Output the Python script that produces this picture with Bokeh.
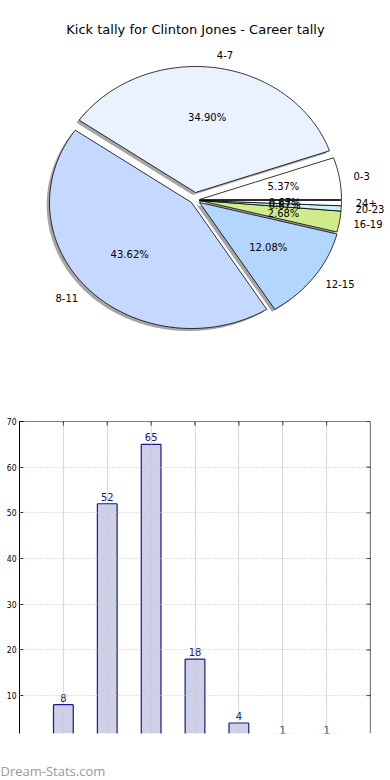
import numpy as np
from bokeh.plotting import figure
from bokeh.models import Range1d, FixedTicker, ColumnDataSource, Span, Grid
from bokeh.core.properties import value
from bokeh.embed import file_html
from bokeh.resources import INLINE

# ---------------- data ----------------
categories = ["0-3", "4-7", "8-11", "12-15", "16-19", "20-23", "24+"]
counts = [8, 52, 65, 18, 4, 1, 1]
y_ticks = [10, 20, 30, 40, 50, 60, 70]
title_text = "Kick tally for Clinton Jones - Career tally"
watermark = "Dream-Stats.com"

# ---------------- styles ----------------
slice_colors = ["#ffffff", "#eaf1ff", "#c5d8ff", "#b3d6ff", "#cfeb8a", "#cdf2ff", "#ffffff"]
explode_px = [(0, -1), (-4, -8), (-8, 2), (0, 2), (0, 0), (0, 0), (0, 0)]
FONT = value("DejaVu Sans")
FONT_C = value("DejaVu Sans Condensed")

W = 390
PIE_H = 400
BAR_H = 345
FOOT_H = 35

# ---------------- pie ----------------
pie = figure(width=W, height=PIE_H, x_range=Range1d(0, W), y_range=Range1d(PIE_H, 0),
             x_axis_location=None, y_axis_location=None, toolbar_location=None,
             output_backend="svg", min_border=0, outline_line_color=None, title=None)
pie.grid.visible = False

cx, cy, rx, ry = 199.0, 200.0, 142.0, 126.0
total = float(sum(counts))
fracs = np.array(counts) / total
edges = np.concatenate([[0.0], np.cumsum(fracs)]) * 2 * np.pi

xs, ys, sxs, sys_ = [], [], [], []
lab_x, lab_y, lab_align, pct_x, pct_y, pct_t = [], [], [], [], [], []
for i, c in enumerate(counts):
    a0, a1 = edges[i], edges[i + 1]
    dx, dy = explode_px[i]
    ox, oy = cx + dx, cy + dy
    th = np.linspace(a0, a1, max(8, int((a1 - a0) * 60)))
    px = [ox] + list(ox + rx * np.cos(th))
    py = [oy] + list(oy - ry * np.sin(th))
    xs.append(px); ys.append(py)
    sxs.append([v - 2.8 for v in px]); sys_.append([v + 2.5 for v in py])
    mid = (a0 + a1) / 2
    lab_x.append(ox + 1.1 * rx * np.cos(mid))
    lab_y.append(oy - 1.1 * ry * np.sin(mid))
    lab_align.append("left" if np.cos(mid) >= 0 else "right")
    pct_x.append(ox + 0.6 * rx * np.cos(mid))
    pct_y.append(oy - 0.6 * ry * np.sin(mid))
    pct_t.append(f"{c / total * 100:.2f}%")

pie.patches(xs=sxs, ys=sys_, fill_color="#4d4d4d", fill_alpha=0.5, line_color=None)
pie.patches(xs=xs, ys=ys, fill_color=slice_colors, line_color="#000000", line_width=0.8)

lab_src = ColumnDataSource(dict(x=lab_x, y=lab_y, t=categories, a=lab_align))
pie.text(x="x", y="y", text="t", text_align="a", source=lab_src, text_baseline="middle",
         text_font=FONT, text_font_size="10px", text_color="#000000")
pct_src = ColumnDataSource(dict(x=pct_x, y=pct_y, t=pct_t))
pie.text(x="x", y="y", text="t", source=pct_src, text_align="center", text_baseline="middle",
         text_font=FONT, text_font_size="10px", text_color="#000000")
pie.text(x=[195], y=[29], text=[title_text], text_align="center", text_baseline="middle",
         text_font=FONT, text_font_size="13px", text_color="#000000")

# ---------------- bars ----------------
idx = list(range(len(categories)))
XMIN, XMAX, YMIN, YMAX = -1, 7, 1.7, 70
BAR_W = 0.45
bars = figure(width=W, height=BAR_H, x_range=Range1d(XMIN, XMAX), y_range=Range1d(YMIN, YMAX),
              x_axis_location=None, y_axis_location="left", toolbar_location=None,
              output_backend="svg", min_border_left=19, min_border_right=20,
              min_border_top=21, min_border_bottom=12,
              outline_line_color=None, title=None)

# bar fill, then open outlines (sides + top) so nothing is drawn on the cut edge
bars.vbar(x=idx, top=counts, bottom=0, width=BAR_W, fill_color="#cdd0e6", line_color=None)
lefts = [i - BAR_W / 2 for i in idx]
rights = [i + BAR_W / 2 for i in idx]
zeros = [0] * len(idx)
bars.segment(x0=lefts, y0=zeros, x1=lefts, y1=counts, line_color="#1a1a8c", line_width=1.2)
bars.segment(x0=rights, y0=zeros, x1=rights, y1=counts, line_color="#1a1a8c", line_width=1.2)
bars.segment(x0=lefts, y0=counts, x1=rights, y1=counts, line_color="#1a1a8c", line_width=1.2)

bars.text(x=idx, y=counts, text=[str(c) for c in counts], text_align="center",
          text_baseline="bottom", y_offset=-3, text_font=FONT_C, text_font_size="11px",
          text_color="#141482")

ya = bars.yaxis[0]
ya.ticker = FixedTicker(ticks=y_ticks)
ya.major_tick_in = 4
ya.major_tick_out = 0
ya.minor_tick_line_color = None
ya.major_label_standoff = 3
ya.major_label_text_font = "DejaVu Sans Condensed"
ya.major_label_text_font_size = "8.5px"
ya.major_label_text_color = "#000000"
ya.axis_line_color = "#000000"

bars.ygrid.grid_line_color = "#c4c4c4"
bars.ygrid.grid_line_dash = "1 2"
bars.ygrid.level = "overlay"

xgrid = Grid(dimension=0, ticker=FixedTicker(ticks=idx), grid_line_color="#c4c4c4",
             grid_line_dash="1 2", level="overlay")
bars.add_layout(xgrid)

# top and right frame lines with inward ticks
bars.add_layout(Span(location=YMAX, dimension="width", line_color="#000000", line_width=1.2))
bars.add_layout(Span(location=XMAX, dimension="height", line_color="#000000", line_width=1.2))
bars.ray(x=[XMAX] * len(y_ticks), y=y_ticks, length=4, length_units="screen", angle=np.pi,
         line_color="#000000", line_width=1)
bars.ray(x=idx, y=[YMAX] * len(idx), length=4, length_units="screen", angle=-np.pi / 2,
         line_color="#000000", line_width=1)

# ---------------- footer (watermark) ----------------
foot = figure(width=W, height=FOOT_H, x_range=Range1d(0, W), y_range=Range1d(FOOT_H, 0),
              x_axis_location=None, y_axis_location=None, toolbar_location=None,
              output_backend="svg", min_border=0, outline_line_color=None, title=None)
foot.grid.visible = False
foot.text(x=[0], y=[25], text=[watermark], text_align="left", text_baseline="middle",
          text_font=value("Open Sans"), text_font_size="13px", text_color="#999999",
          text_font_style="normal")

open("out.html", "w").write(file_html([pie, bars, foot], INLINE))
